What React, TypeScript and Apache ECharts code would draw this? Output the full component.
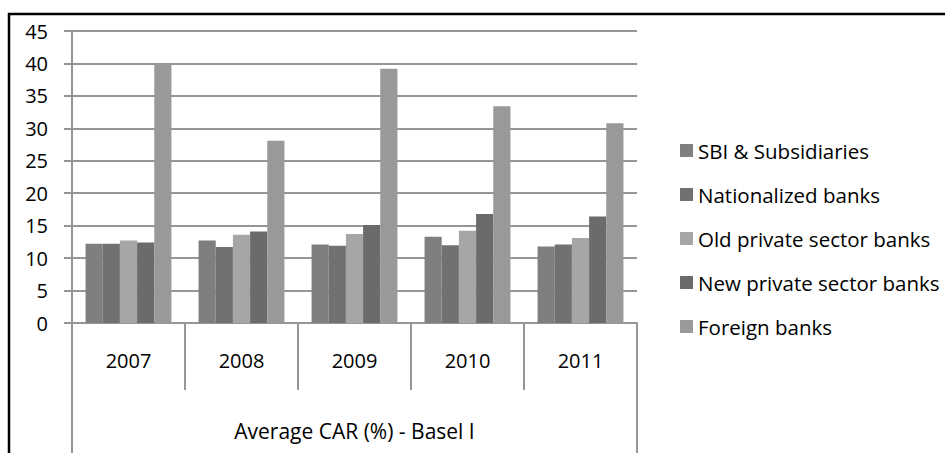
import React, { useEffect, useRef } from "react";
import * as echarts from "echarts";

const categories = ["2007", "2008", "2009", "2010", "2011"];
const groupLabel = ["Average CAR (%) - Basel I"];
const seriesNames = [
  "SBI & Subsidiaries",
  "Nationalized banks",
  "Old private sector banks",
  "New private sector banks",
  "Foreign banks",
];
const sbi = [12.2, 12.7, 12.1, 13.3, 11.8];
const nationalized = [12.2, 11.7, 11.9, 12.0, 12.1];
const oldPrivate = [12.7, 13.6, 13.7, 14.2, 13.1];
const newPrivate = [12.4, 14.1, 15.1, 16.8, 16.4];
const foreign = [40.0, 28.1, 39.2, 33.4, 30.8];
const seriesValues = [sbi, nationalized, oldPrivate, newPrivate, foreign];
const colors = ["#7f7f7f", "#717171", "#a6a6a6", "#6b6b6b", "#999999"];

const FONT = "'Open Sans', sans-serif";
const GRID_COLOR = "#969696";
const TEXT_COLOR = "#000";

export default function App() {
  const ref = useRef<HTMLDivElement>(null);
  useEffect(() => {
    if (!ref.current) return;
    const chart = echarts.init(ref.current, undefined, { renderer: "svg" });
    chart.setOption({
      animation: false,
      backgroundColor: "#ffffff",
      textStyle: { fontFamily: FONT },
      graphic: [
        {
          type: "rect",
          shape: { x: 9, y: 14, width: 1200, height: 1000 },
          style: { fill: "none", stroke: "#000", lineWidth: 2.5 },
          silent: true,
          z: 100,
        },
      ],
      grid: { left: 72, right: 308, top: 31, bottom: 130, containLabel: false },
      legend: {
        orient: "vertical",
        left: 675,
        top: 135,
        icon: "rect",
        itemWidth: 13,
        itemHeight: 13,
        itemGap: 23,
        data: seriesNames,
        textStyle: { fontFamily: FONT, fontSize: 20.5, color: TEXT_COLOR, lineHeight: 20 },
      },
      xAxis: [
        {
          type: "category",
          data: categories,
          position: "bottom",
          axisLine: { show: true, lineStyle: { color: GRID_COLOR, width: 2 } },
          axisTick: { show: true, length: 67, interval: 0, lineStyle: { color: GRID_COLOR, width: 2 } },
          axisLabel: { margin: 27, fontFamily: FONT, fontSize: 20, color: TEXT_COLOR },
        },
        {
          type: "category",
          data: groupLabel,
          position: "bottom",
          axisLine: { show: false },
          axisTick: { show: true, length: 135, lineStyle: { color: GRID_COLOR, width: 2 } },
          axisLabel: { margin: 97, fontFamily: FONT, fontSize: 21, color: TEXT_COLOR },
        },
      ],
      yAxis: {
        type: "value",
        min: 0,
        max: 45,
        interval: 5,
        axisLine: { show: true, lineStyle: { color: GRID_COLOR, width: 2 } },
        axisTick: { show: true, length: 8, lineStyle: { color: GRID_COLOR, width: 2 } },
        axisLabel: { margin: 24, fontFamily: FONT, fontSize: 20, color: TEXT_COLOR },
        splitLine: { show: true, lineStyle: { color: GRID_COLOR, width: 2 } },
      },
      series: seriesNames.map((name, i) => ({
        name,
        type: "bar",
        xAxisIndex: 0,
        data: seriesValues[i],
        barGap: "0%",
        barCategoryGap: "24%",
        itemStyle: { color: colors[i] },
      })),
    });
    return () => chart.dispose();
  }, []);
  return (
    <div
      ref={ref}
      style={{ position: "fixed", left: 0, top: 0, width: 945, height: 453 }}
    />
  );
}
